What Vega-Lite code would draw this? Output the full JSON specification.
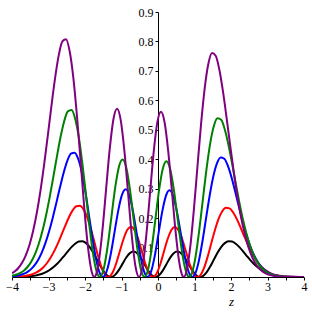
{
  "$schema": "https://vega.github.io/schema/vega-lite/v6.json",
  "width": 292,
  "height": 265,
  "autosize": "none",
  "padding": {"left": 12, "top": 12, "right": 8, "bottom": 35},
  "config": {"view": {"stroke": null}, "background": "white", "font": "Liberation Serif",
    "axis": {"labelFont": "Liberation Serif", "titleFont": "Liberation Serif", "labelFontSize": 12, "titleFontSize": 13, "titleFontStyle": "italic", "titleFontWeight": "normal"}},
  "data": {"values": [
{"s":"k","z":-4,"y":0.0002},{"s":"k","z":-3.67,"y":0.0011},{"s":"k","z":-3.57,"y":0.0018},{"s":"k","z":-3.47,"y":0.003},{"s":"k","z":-3.37,"y":0.0047},{"s":"k","z":-3.27,"y":0.0074},{"s":"k","z":-3.17,"y":0.0112},{"s":"k","z":-3.07,"y":0.0165},{"s":"k","z":-2.97,"y":0.0237},{"s":"k","z":-2.87,"y":0.0328},{"s":"k","z":-2.77,"y":0.0441},{"s":"k","z":-2.67,"y":0.0574},{"s":"k","z":-2.57,"y":0.0721},{"s":"k","z":-2.47,"y":0.0872},{"s":"k","z":-2.37,"y":0.1014},{"s":"k","z":-2.27,"y":0.113},{"s":"k","z":-2.17,"y":0.1202},{"s":"k","z":-2.07,"y":0.1212},{"s":"k","z":-1.97,"y":0.1151},{"s":"k","z":-1.87,"y":0.1017},{"s":"k","z":-1.77,"y":0.0822},{"s":"k","z":-1.67,"y":0.0589},{"s":"k","z":-1.57,"y":0.0353},{"s":"k","z":-1.47,"y":0.0155},{"s":"k","z":-1.37,"y":0.003},{"s":"k","z":-1.295,"y":0},{"s":"k","z":-1.27,"y":0.0003},{"s":"k","z":-1.17,"y":0.008},{"s":"k","z":-1.07,"y":0.0243},{"s":"k","z":-0.97,"y":0.0454},{"s":"k","z":-0.87,"y":0.0661},{"s":"k","z":-0.77,"y":0.0811},{"s":"k","z":-0.67,"y":0.0864},{"s":"k","z":-0.57,"y":0.0805},{"s":"k","z":-0.47,"y":0.0648},{"s":"k","z":-0.37,"y":0.0433},{"s":"k","z":-0.27,"y":0.0217},{"s":"k","z":-0.17,"y":0.0058},{"s":"k","z":-0.07,"y":0},{"s":"k","z":0.03,"y":0.0058},{"s":"k","z":0.13,"y":0.0217},{"s":"k","z":0.23,"y":0.0433},{"s":"k","z":0.33,"y":0.0648},{"s":"k","z":0.43,"y":0.0805},{"s":"k","z":0.53,"y":0.0864},{"s":"k","z":0.63,"y":0.0811},{"s":"k","z":0.73,"y":0.0661},{"s":"k","z":0.83,"y":0.0454},{"s":"k","z":0.93,"y":0.0243},{"s":"k","z":1.03,"y":0.008},{"s":"k","z":1.13,"y":0.0003},{"s":"k","z":1.155,"y":0},{"s":"k","z":1.23,"y":0.003},{"s":"k","z":1.33,"y":0.0155},{"s":"k","z":1.43,"y":0.0353},{"s":"k","z":1.53,"y":0.0589},{"s":"k","z":1.63,"y":0.0822},{"s":"k","z":1.73,"y":0.1017},{"s":"k","z":1.83,"y":0.1151},{"s":"k","z":1.93,"y":0.1212},{"s":"k","z":2.03,"y":0.1202},{"s":"k","z":2.13,"y":0.113},{"s":"k","z":2.23,"y":0.1014},{"s":"k","z":2.33,"y":0.0872},{"s":"k","z":2.43,"y":0.0721},{"s":"k","z":2.53,"y":0.0574},{"s":"k","z":2.63,"y":0.0441},{"s":"k","z":2.73,"y":0.0328},{"s":"k","z":2.83,"y":0.0237},{"s":"k","z":2.93,"y":0.0165},{"s":"k","z":3.03,"y":0.0112},{"s":"k","z":3.13,"y":0.0074},{"s":"k","z":3.23,"y":0.0047},{"s":"k","z":3.33,"y":0.003},{"s":"k","z":3.43,"y":0.0018},{"s":"k","z":3.53,"y":0.0011},{"s":"k","z":3.73,"y":0.0003},{"s":"k","z":4,"y":0.0001},
{"s":"r","z":-4,"y":0.0005},{"s":"r","z":-3.94,"y":0.0007},{"s":"r","z":-3.84,"y":0.0012},{"s":"r","z":-3.74,"y":0.0021},{"s":"r","z":-3.64,"y":0.0036},{"s":"r","z":-3.54,"y":0.006},{"s":"r","z":-3.44,"y":0.0095},{"s":"r","z":-3.34,"y":0.0149},{"s":"r","z":-3.24,"y":0.0226},{"s":"r","z":-3.14,"y":0.0333},{"s":"r","z":-3.04,"y":0.0476},{"s":"r","z":-2.94,"y":0.066},{"s":"r","z":-2.84,"y":0.0886},{"s":"r","z":-2.74,"y":0.1151},{"s":"r","z":-2.64,"y":0.1445},{"s":"r","z":-2.54,"y":0.1747},{"s":"r","z":-2.44,"y":0.203},{"s":"r","z":-2.34,"y":0.2261},{"s":"r","z":-2.24,"y":0.2402},{"s":"r","z":-2.14,"y":0.2421},{"s":"r","z":-2.04,"y":0.2297},{"s":"r","z":-1.94,"y":0.2028},{"s":"r","z":-1.84,"y":0.1637},{"s":"r","z":-1.74,"y":0.1172},{"s":"r","z":-1.64,"y":0.0703},{"s":"r","z":-1.54,"y":0.0308},{"s":"r","z":-1.44,"y":0.0059},{"s":"r","z":-1.365,"y":0},{"s":"r","z":-1.34,"y":0.0006},{"s":"r","z":-1.24,"y":0.0159},{"s":"r","z":-1.14,"y":0.0483},{"s":"r","z":-1.04,"y":0.09},{"s":"r","z":-0.94,"y":0.1308},{"s":"r","z":-0.84,"y":0.1604},{"s":"r","z":-0.74,"y":0.1709},{"s":"r","z":-0.64,"y":0.1591},{"s":"r","z":-0.54,"y":0.128},{"s":"r","z":-0.44,"y":0.0854},{"s":"r","z":-0.34,"y":0.0428},{"s":"r","z":-0.24,"y":0.0115},{"s":"r","z":-0.14,"y":0},{"s":"r","z":-0.04,"y":0.0114},{"s":"r","z":0.06,"y":0.0426},{"s":"r","z":0.16,"y":0.0851},{"s":"r","z":0.26,"y":0.1272},{"s":"r","z":0.36,"y":0.158},{"s":"r","z":0.46,"y":0.1694},{"s":"r","z":0.56,"y":0.1588},{"s":"r","z":0.66,"y":0.1293},{"s":"r","z":0.76,"y":0.0888},{"s":"r","z":0.86,"y":0.0476},{"s":"r","z":0.96,"y":0.0157},{"s":"r","z":1.06,"y":0.0006},{"s":"r","z":1.085,"y":0},{"s":"r","z":1.16,"y":0.0058},{"s":"r","z":1.26,"y":0.0301},{"s":"r","z":1.36,"y":0.0688},{"s":"r","z":1.46,"y":0.1146},{"s":"r","z":1.56,"y":0.1598},{"s":"r","z":1.66,"y":0.1976},{"s":"r","z":1.76,"y":0.2235},{"s":"r","z":1.86,"y":0.2352},{"s":"r","z":1.96,"y":0.233},{"s":"r","z":2.06,"y":0.219},{"s":"r","z":2.16,"y":0.1964},{"s":"r","z":2.26,"y":0.1687},{"s":"r","z":2.36,"y":0.1393},{"s":"r","z":2.46,"y":0.1109},{"s":"r","z":2.56,"y":0.0852},{"s":"r","z":2.66,"y":0.0634},{"s":"r","z":2.76,"y":0.0456},{"s":"r","z":2.86,"y":0.0319},{"s":"r","z":2.96,"y":0.0216},{"s":"r","z":3.06,"y":0.0142},{"s":"r","z":3.16,"y":0.0091},{"s":"r","z":3.26,"y":0.0057},{"s":"r","z":3.36,"y":0.0035},{"s":"r","z":3.46,"y":0.0021},{"s":"r","z":3.56,"y":0.0012},{"s":"r","z":3.66,"y":0.0007},{"s":"r","z":4,"y":0.0001},
{"s":"b","z":-4,"y":0.002},{"s":"b","z":-3.985,"y":0.0021},{"s":"b","z":-3.885,"y":0.0037},{"s":"b","z":-3.785,"y":0.0063},{"s":"b","z":-3.685,"y":0.0104},{"s":"b","z":-3.585,"y":0.0166},{"s":"b","z":-3.485,"y":0.0259},{"s":"b","z":-3.385,"y":0.0393},{"s":"b","z":-3.285,"y":0.0579},{"s":"b","z":-3.185,"y":0.0829},{"s":"b","z":-3.085,"y":0.1149},{"s":"b","z":-2.985,"y":0.1544},{"s":"b","z":-2.885,"y":0.2006},{"s":"b","z":-2.785,"y":0.2518},{"s":"b","z":-2.685,"y":0.3045},{"s":"b","z":-2.585,"y":0.3539},{"s":"b","z":-2.485,"y":0.3942},{"s":"b","z":-2.385,"y":0.4188},{"s":"b","z":-2.285,"y":0.4222},{"s":"b","z":-2.185,"y":0.4007},{"s":"b","z":-2.085,"y":0.3538},{"s":"b","z":-1.985,"y":0.2856},{"s":"b","z":-1.885,"y":0.2045},{"s":"b","z":-1.785,"y":0.1226},{"s":"b","z":-1.685,"y":0.0536},{"s":"b","z":-1.585,"y":0.0103},{"s":"b","z":-1.51,"y":0},{"s":"b","z":-1.485,"y":0.0011},{"s":"b","z":-1.385,"y":0.0278},{"s":"b","z":-1.285,"y":0.0842},{"s":"b","z":-1.185,"y":0.1569},{"s":"b","z":-1.085,"y":0.2281},{"s":"b","z":-0.985,"y":0.2796},{"s":"b","z":-0.885,"y":0.2978},{"s":"b","z":-0.785,"y":0.2773},{"s":"b","z":-0.685,"y":0.2229},{"s":"b","z":-0.585,"y":0.1488},{"s":"b","z":-0.485,"y":0.0745},{"s":"b","z":-0.385,"y":0.02},{"s":"b","z":-0.285,"y":0},{"s":"b","z":-0.185,"y":0.0199},{"s":"b","z":-0.085,"y":0.0742},{"s":"b","z":0.015,"y":0.1479},{"s":"b","z":0.115,"y":0.2212},{"s":"b","z":0.215,"y":0.2745},{"s":"b","z":0.315,"y":0.2942},{"s":"b","z":0.415,"y":0.2757},{"s":"b","z":0.515,"y":0.2245},{"s":"b","z":0.615,"y":0.1541},{"s":"b","z":0.715,"y":0.0825},{"s":"b","z":0.815,"y":0.0272},{"s":"b","z":0.915,"y":0.0011},{"s":"b","z":0.94,"y":0},{"s":"b","z":1.015,"y":0.0101},{"s":"b","z":1.115,"y":0.0522},{"s":"b","z":1.215,"y":0.119},{"s":"b","z":1.315,"y":0.1981},{"s":"b","z":1.415,"y":0.276},{"s":"b","z":1.515,"y":0.3413},{"s":"b","z":1.615,"y":0.3857},{"s":"b","z":1.715,"y":0.4057},{"s":"b","z":1.815,"y":0.4016},{"s":"b","z":1.915,"y":0.3772},{"s":"b","z":2.015,"y":0.338},{"s":"b","z":2.115,"y":0.2902},{"s":"b","z":2.215,"y":0.2395},{"s":"b","z":2.315,"y":0.1905},{"s":"b","z":2.415,"y":0.1463},{"s":"b","z":2.515,"y":0.1087},{"s":"b","z":2.615,"y":0.0782},{"s":"b","z":2.715,"y":0.0546},{"s":"b","z":2.815,"y":0.037},{"s":"b","z":2.915,"y":0.0243},{"s":"b","z":3.015,"y":0.0156},{"s":"b","z":3.115,"y":0.0097},{"s":"b","z":3.215,"y":0.0059},{"s":"b","z":3.315,"y":0.0035},{"s":"b","z":3.415,"y":0.002},{"s":"b","z":3.515,"y":0.0011},{"s":"b","z":3.615,"y":0.0006},{"s":"b","z":4,"y":0},
{"s":"g","z":-4,"y":0.0044},{"s":"g","z":-3.97,"y":0.005},{"s":"g","z":-3.87,"y":0.0085},{"s":"g","z":-3.77,"y":0.0139},{"s":"g","z":-3.67,"y":0.0223},{"s":"g","z":-3.57,"y":0.0348},{"s":"g","z":-3.47,"y":0.0528},{"s":"g","z":-3.37,"y":0.0778},{"s":"g","z":-3.27,"y":0.1113},{"s":"g","z":-3.17,"y":0.1544},{"s":"g","z":-3.07,"y":0.2074},{"s":"g","z":-2.97,"y":0.2695},{"s":"g","z":-2.87,"y":0.3382},{"s":"g","z":-2.77,"y":0.4089},{"s":"g","z":-2.67,"y":0.4753},{"s":"g","z":-2.57,"y":0.5293},{"s":"g","z":-2.47,"y":0.5624},{"s":"g","z":-2.37,"y":0.5669},{"s":"g","z":-2.27,"y":0.5379},{"s":"g","z":-2.17,"y":0.4749},{"s":"g","z":-2.07,"y":0.3833},{"s":"g","z":-1.97,"y":0.2744},{"s":"g","z":-1.87,"y":0.1645},{"s":"g","z":-1.77,"y":0.072},{"s":"g","z":-1.67,"y":0.0139},{"s":"g","z":-1.595,"y":0},{"s":"g","z":-1.57,"y":0.0015},{"s":"g","z":-1.47,"y":0.0373},{"s":"g","z":-1.37,"y":0.1129},{"s":"g","z":-1.27,"y":0.2104},{"s":"g","z":-1.17,"y":0.3058},{"s":"g","z":-1.07,"y":0.3747},{"s":"g","z":-0.97,"y":0.399},{"s":"g","z":-0.87,"y":0.3715},{"s":"g","z":-0.77,"y":0.2986},{"s":"g","z":-0.67,"y":0.1992},{"s":"g","z":-0.57,"y":0.0997},{"s":"g","z":-0.47,"y":0.0267},{"s":"g","z":-0.37,"y":0},{"s":"g","z":-0.27,"y":0.0266},{"s":"g","z":-0.17,"y":0.0992},{"s":"g","z":-0.07,"y":0.1978},{"s":"g","z":0.03,"y":0.2957},{"s":"g","z":0.13,"y":0.3669},{"s":"g","z":0.23,"y":0.3931},{"s":"g","z":0.33,"y":0.3683},{"s":"g","z":0.43,"y":0.2997},{"s":"g","z":0.53,"y":0.2057},{"s":"g","z":0.63,"y":0.1101},{"s":"g","z":0.73,"y":0.0363},{"s":"g","z":0.83,"y":0.0015},{"s":"g","z":0.855,"y":0},{"s":"g","z":0.93,"y":0.0134},{"s":"g","z":1.03,"y":0.0695},{"s":"g","z":1.13,"y":0.1585},{"s":"g","z":1.23,"y":0.2637},{"s":"g","z":1.33,"y":0.3674},{"s":"g","z":1.43,"y":0.4541},{"s":"g","z":1.53,"y":0.513},{"s":"g","z":1.63,"y":0.5393},{"s":"g","z":1.73,"y":0.5337},{"s":"g","z":1.83,"y":0.501},{"s":"g","z":1.93,"y":0.4488},{"s":"g","z":2.03,"y":0.3851},{"s":"g","z":2.13,"y":0.3177},{"s":"g","z":2.23,"y":0.2525},{"s":"g","z":2.33,"y":0.1938},{"s":"g","z":2.43,"y":0.1439},{"s":"g","z":2.53,"y":0.1035},{"s":"g","z":2.63,"y":0.0722},{"s":"g","z":2.73,"y":0.0489},{"s":"g","z":2.83,"y":0.0322},{"s":"g","z":2.93,"y":0.0206},{"s":"g","z":3.03,"y":0.0129},{"s":"g","z":3.13,"y":0.0078},{"s":"g","z":3.23,"y":0.0046},{"s":"g","z":3.33,"y":0.0026},{"s":"g","z":3.43,"y":0.0015},{"s":"g","z":3.53,"y":0.0008},{"s":"g","z":3.63,"y":0.0004},{"s":"g","z":4,"y":0},
{"s":"p","z":-4,"y":0.0131},{"s":"p","z":-3.92,"y":0.0195},{"s":"p","z":-3.82,"y":0.0314},{"s":"p","z":-3.72,"y":0.049},{"s":"p","z":-3.62,"y":0.0744},{"s":"p","z":-3.52,"y":0.1097},{"s":"p","z":-3.42,"y":0.1571},{"s":"p","z":-3.32,"y":0.2182},{"s":"p","z":-3.22,"y":0.2935},{"s":"p","z":-3.12,"y":0.3817},{"s":"p","z":-3.02,"y":0.4795},{"s":"p","z":-2.92,"y":0.5804},{"s":"p","z":-2.82,"y":0.6752},{"s":"p","z":-2.72,"y":0.7526},{"s":"p","z":-2.62,"y":0.8002},{"s":"p","z":-2.52,"y":0.8073},{"s":"p","z":-2.42,"y":0.7665},{"s":"p","z":-2.32,"y":0.6772},{"s":"p","z":-2.22,"y":0.5469},{"s":"p","z":-2.12,"y":0.3918},{"s":"p","z":-2.02,"y":0.235},{"s":"p","z":-1.92,"y":0.1029},{"s":"p","z":-1.82,"y":0.0198},{"s":"p","z":-1.745,"y":0},{"s":"p","z":-1.72,"y":0.0022},{"s":"p","z":-1.62,"y":0.0533},{"s":"p","z":-1.52,"y":0.1616},{"s":"p","z":-1.42,"y":0.3011},{"s":"p","z":-1.32,"y":0.4377},{"s":"p","z":-1.22,"y":0.5366},{"s":"p","z":-1.12,"y":0.5714},{"s":"p","z":-1.02,"y":0.532},{"s":"p","z":-0.92,"y":0.4276},{"s":"p","z":-0.82,"y":0.2853},{"s":"p","z":-0.72,"y":0.1427},{"s":"p","z":-0.62,"y":0.0382},{"s":"p","z":-0.52,"y":0},{"s":"p","z":-0.42,"y":0.0381},{"s":"p","z":-0.32,"y":0.1419},{"s":"p","z":-0.22,"y":0.2828},{"s":"p","z":-0.12,"y":0.4226},{"s":"p","z":-0.02,"y":0.5242},{"s":"p","z":0.08,"y":0.5614},{"s":"p","z":0.18,"y":0.5256},{"s":"p","z":0.28,"y":0.4275},{"s":"p","z":0.38,"y":0.2932},{"s":"p","z":0.48,"y":0.1569},{"s":"p","z":0.58,"y":0.0516},{"s":"p","z":0.68,"y":0.0021},{"s":"p","z":0.705,"y":0},{"s":"p","z":0.78,"y":0.0191},{"s":"p","z":0.88,"y":0.0987},{"s":"p","z":0.98,"y":0.2247},{"s":"p","z":1.08,"y":0.3736},{"s":"p","z":1.18,"y":0.5199},{"s":"p","z":1.28,"y":0.6418},{"s":"p","z":1.38,"y":0.7242},{"s":"p","z":1.48,"y":0.7604},{"s":"p","z":1.58,"y":0.7515},{"s":"p","z":1.68,"y":0.7045},{"s":"p","z":1.78,"y":0.6301},{"s":"p","z":1.88,"y":0.5399},{"s":"p","z":1.98,"y":0.4447},{"s":"p","z":2.08,"y":0.3529},{"s":"p","z":2.18,"y":0.2704},{"s":"p","z":2.28,"y":0.2004},{"s":"p","z":2.38,"y":0.1439},{"s":"p","z":2.48,"y":0.1002},{"s":"p","z":2.58,"y":0.0677},{"s":"p","z":2.68,"y":0.0444},{"s":"p","z":2.78,"y":0.0283},{"s":"p","z":2.88,"y":0.0176},{"s":"p","z":2.98,"y":0.0106},{"s":"p","z":3.08,"y":0.0063},{"s":"p","z":3.18,"y":0.0036},{"s":"p","z":3.28,"y":0.002},{"s":"p","z":3.38,"y":0.0011},{"s":"p","z":3.48,"y":0.0006},{"s":"p","z":4,"y":0}
  ]},
  "mark": {"type": "line", "interpolate": "monotone", "strokeWidth": 2, "clip": true},
  "encoding": {
    "x": {"field": "z", "type": "quantitative",
      "scale": {"domain": [-4, 4], "nice": false, "zero": false},
      "axis": {"values": [-4,-3.5,-3,-2.5,-2,-1.5,-1,-0.5,0,0.5,1,1.5,2,2.5,3,3.5,4],
        "format": ".0f",
        "labelExpr": "datum.value % 1 === 0 ? datum.label : ''",
        "grid": false, "domainColor": "black", "domainWidth": 1, "tickColor": "black", "tickSize": 3,
        "labelColor": "black", "labelPadding": 1, "labelFlush": false, "labelOverlap": false,
        "title": "z", "titleColor": "black", "titleX": 219, "titleY": 28, "titleAlign": "center", "titleBaseline": "alphabetic"}},
    "y": {"field": "y", "type": "quantitative",
      "scale": {"domain": [0, 0.9], "nice": false},
      "axis": {"values": [0.1,0.2,0.3,0.4,0.5,0.6,0.7,0.8,0.9], "format": ".1f", "offset": -146,
        "grid": false, "domainColor": "black", "domainWidth": 1, "tickColor": "black", "tickSize": 3,
        "labelColor": "black", "labelPadding": 2, "labelFlush": false, "labelOverlap": false, "title": null}},
    "color": {"field": "s", "type": "nominal", "legend": null,
      "scale": {"domain": ["k","r","b","g","p"], "range": ["#000000","#ff0000","#0000ff","#008000","#800080"]}}
  }
}
